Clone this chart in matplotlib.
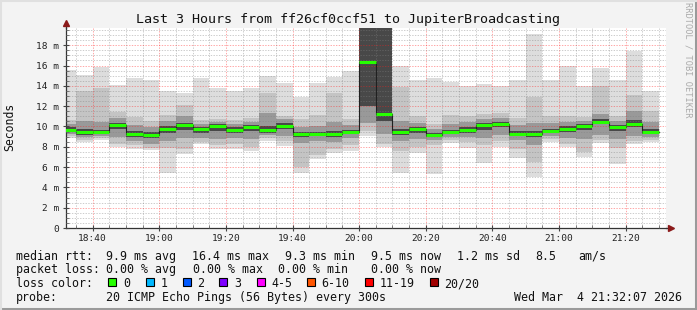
import matplotlib
matplotlib.use('Agg')
import matplotlib.pyplot as plt
from matplotlib.patches import Rectangle
from matplotlib.ticker import MultipleLocator, FuncFormatter

# 5 minute slots, first slot starts 18:30 (values in ms)
first_slot = 18 * 60 + 30
rtt_min = [8.9, 8.5, 8.7, 8.0, 7.8, 7.7, 5.45, 7.3, 8.25, 7.8, 7.8, 7.6,
           8.6, 8.1, 5.45, 6.8, 7.4, 7.6, 9.1, 8.0, 5.45, 7.4, 5.3, 8.4,
           7.9, 6.4, 8.0, 6.9, 5.0, 8.5, 8.0, 7.0, 8.35, 6.3, 8.3, 8.5]
rtt_lo2 = [9.1, 8.7, 8.9, 8.3, 8.2, 7.9, 7.9, 7.8, 8.5, 8.2, 8.3, 8.0,
           8.9, 8.6, 6.0, 7.2, 7.8, 8.2, 9.6, 8.3, 7.6, 8.0, 8.2, 8.7,
           8.5, 8.2, 8.6, 7.8, 6.5, 8.8, 8.3, 7.5, 8.7, 7.9, 8.6, 8.7]
rtt_lo5 = [9.3, 9.0, 9.1, 9.0, 8.6, 8.3, 8.6, 8.9, 8.9, 8.8, 8.9, 8.8,
           9.2, 9.1, 8.4, 8.6, 8.5, 8.9, 10.3, 9.3, 8.6, 8.8, 8.7, 9.0,
           9.0, 8.9, 9.2, 8.7, 8.2, 9.1, 8.9, 8.8, 9.2, 8.8, 9.1, 9.0]
rtt_lo8 = [9.5, 9.2, 9.3, 9.8, 9.0, 8.9, 9.4, 9.7, 9.4, 9.6, 9.4, 9.6,
           9.4, 9.8, 9.0, 9.1, 9.0, 9.3, 12.0, 10.5, 9.2, 9.4, 8.95, 9.3,
           9.4, 9.7, 9.9, 9.1, 9.0, 9.35, 9.5, 9.7, 10.2, 9.6, 9.9, 9.3]
rtt_med = [9.7, 9.5, 9.5, 10.1, 9.3, 9.2, 9.75, 10.1, 9.75, 10.0, 9.65, 9.9,
           9.65, 10.0, 9.3, 9.3, 9.3, 9.5, 16.4, 11.26, 9.5, 9.8, 9.15, 9.5,
           9.7, 10.1, 10.2, 9.3, 9.3, 9.6, 9.8, 10.0, 10.45, 9.95, 10.25, 9.5]
rtt_hi8 = [9.9, 9.8, 9.7, 10.3, 9.6, 9.5, 10.0, 10.3, 9.9, 10.2, 9.9, 10.1,
           10.0, 10.3, 9.5, 9.5, 9.6, 9.7, 19.7, 19.7, 9.8, 9.95, 9.4, 9.7,
           9.9, 10.3, 10.4, 9.6, 9.6, 9.8, 10.0, 10.2, 10.7, 10.1, 10.6, 9.8]
rtt_hi5 = [10.2, 10.5, 10.4, 10.8, 10.1, 9.9, 10.5, 11.0, 10.2, 10.4, 10.2, 10.4,
           11.3, 10.7, 9.9, 10.0, 10.4, 10.1, 19.7, 19.7, 10.5, 10.3, 9.8, 10.2,
           10.4, 10.7, 10.8, 10.1, 10.3, 10.3, 10.4, 10.5, 11.2, 10.5, 11.5, 10.4]
rtt_hi2 = [10.6, 13.5, 13.8, 11.4, 10.9, 10.5, 11.1, 12.1, 10.6, 10.7, 10.6, 10.8,
           13.3, 11.0, 10.7, 11.1, 13.3, 10.7, 19.7, 19.7, 13.9, 11.0, 10.2, 11.1,
           11.0, 11.2, 11.3, 10.8, 12.9, 11.0, 11.0, 10.9, 14.0, 11.0, 13.1, 11.5]
rtt_max = [15.6, 15.1, 15.9, 14.1, 14.8, 14.6, 13.5, 13.3, 14.75, 13.8, 13.5, 13.8,
           15.0, 14.25, 12.9, 14.25, 14.9, 15.5, 19.7, 19.7, 16.0, 14.6, 14.8, 14.4,
           14.0, 14.15, 14.0, 14.6, 19.1, 14.6, 16.0, 14.0, 15.8, 14.6, 17.4, 13.5]

loss_labels = ['0', '1', '2', '3', '4-5', '6-10', '11-19', '20/20']
loss_colors = ['#26ff00', '#00b8ff', '#0059ff', '#7e00ff', '#ff00ff',
               '#ff5500', '#ff0000', '#a10000']

rtt_items = ['median rtt:', '9.9 ms avg', '16.4 ms max', '9.3 ms min',
             '9.5 ms now', '1.2 ms sd', '8.5', 'am/s']
loss_items = ['packet loss:', '0.00 % avg', '0.00 % max', '0.00 % min', '0.00 % now']

W, H = 697, 310
MONO = 'DejaVu Sans Mono'


def px(x, y):
    return x / W, 1 - y / H


def legend_text(x, y, s):
    fig.text(*px(x, y), s, ha='left', va='center_baseline', fontfamily=MONO,
             fontsize=8.4, color='#111111')


fig = plt.figure(figsize=(W / 100, H / 100), dpi=100, facecolor='#f3f3f3')
ax = fig.add_axes([66.4 / W, (H - 228) / H, 599.6 / W, 200 / H])
ax.set_facecolor('white')

xs = [first_slot + 5 * i for i in range(len(rtt_med))]

# smoke: outer pings lightest, inner pings darker
layers = [(rtt_min, rtt_max, '#dddddd'),
          (rtt_lo2, rtt_hi2, '#c4c4c4'),
          (rtt_lo5, rtt_hi5, '#999999'),
          (rtt_lo8, rtt_hi8, '#484848')]
for lo, hi, col in layers:
    ax.bar(xs, [h - l for l, h in zip(lo, hi)], bottom=lo, width=5,
           align='edge', color=col, linewidth=0, zorder=1)

# median line
ax.step(xs + [xs[-1] + 5], rtt_med + [rtt_med[-1]], where='post',
        color='#202020', lw=0.8, zorder=3)
ax.hlines(rtt_med, xs, [x + 5 for x in xs], color=loss_colors[0], lw=2.2, zorder=4)

t0 = 18 * 60 + 32 + 7 / 60
ax.set_xlim(t0, t0 + 180)
ax.set_ylim(0, 19.7)

ax.xaxis.set_major_locator(MultipleLocator(20))
ax.xaxis.set_minor_locator(MultipleLocator(5))
ax.yaxis.set_major_locator(MultipleLocator(2))
ax.yaxis.set_minor_locator(MultipleLocator(0.5))
ax.xaxis.set_major_formatter(FuncFormatter(lambda v, p: f"{int(round(v)) // 60}:{int(round(v)) % 60:02d}"))
ax.yaxis.set_major_formatter(FuncFormatter(lambda v, p: '0' if abs(v) < 1e-9 else f"{v:.0f} m"))

ax.set_axisbelow(False)
dots = (0, (1.4, 1.4))
ax.grid(which='minor', color='#808080', alpha=0.4, ls=dots, lw=0.7)
ax.grid(which='major', color='#ff2020', alpha=0.4, ls=dots, lw=0.7)

for lab in ax.get_xticklabels() + ax.get_yticklabels():
    lab.set_fontfamily(MONO)
    lab.set_fontsize(6.8)
    lab.set_color('#222222')
ax.tick_params(axis='both', which='major', direction='inout', length=4, color='#444444')
ax.tick_params(axis='both', which='minor', direction='in', length=2, color='#666666')
ax.tick_params(axis='y', pad=3)
ax.tick_params(axis='x', pad=2)

for s in ['top', 'right']:
    ax.spines[s].set_visible(False)
for s in ['left', 'bottom']:
    ax.spines[s].set_color('#333333')
    ax.spines[s].set_linewidth(0.9)

# axis arrows
ax.plot([1.0, 1.007], [0, 0], transform=ax.transAxes, color='#333333', lw=0.9, clip_on=False)
ax.plot([0, 0], [1.0, 1.02], transform=ax.transAxes, color='#333333', lw=0.9, clip_on=False)
ax.plot([1.008], [0], transform=ax.transAxes, marker='>', ms=4, color='#8b1a1a', clip_on=False)
ax.plot([0], [1.025], transform=ax.transAxes, marker='^', ms=4, color='#8b1a1a', clip_on=False)

fig.text(*px(348, 19), 'Last 3 Hours from ff26cf0ccf51 to JupiterBroadcasting',
         ha='center', va='center', fontfamily=MONO, fontsize=9.6, color='#111111')
fig.text(*px(10, 127), 'Seconds', rotation=90, ha='center', va='center',
         fontfamily=MONO, fontsize=8.3, color='#111111')
fig.text(*px(688, 60), 'RRDTOOL / TOBI OETIKER', rotation=-90, ha='center', va='center',
         fontfamily=MONO, fontsize=6.2, color='#aaaaaa')

for x, s in zip([16, 106.3, 192.3, 285, 371.3, 457.3, 535.7, 578.5], rtt_items):
    legend_text(x, 254.7, s)
for x, s in zip([16, 106.3, 193, 278.3, 371.3], loss_items):
    legend_text(x, 268.3, s)

legend_text(16, 282.3, 'loss color:')
box_x = [108.3, 145.7, 182.7, 219.3, 256.7, 306.7, 365.0, 430.0]
for bx, lab, col in zip(box_x, loss_labels, loss_colors):
    fig.patches.append(Rectangle(px(bx, 286), 8 / W, 8 / H, transform=fig.transFigure,
                                 facecolor=col, edgecolor='black', lw=0.8))
    legend_text(bx + 14.5, 282.3, lab)

legend_text(16, 296, 'probe:')
legend_text(106.3, 296, '20 ICMP Echo Pings (56 Bytes) every 300s')
fig.text(*px(682, 296), 'Wed Mar  4 21:32:07 2026', ha='right', va='center_baseline',
         fontfamily=MONO, fontsize=8.4, color='#111111')

# frame around the image
fig.add_artist(plt.Line2D([0, 1], [1.5 / H, 1.5 / H], transform=fig.transFigure, color='#9a9a9a', lw=2.2))
fig.add_artist(plt.Line2D([1 - 1.5 / W, 1 - 1.5 / W], [0, 1], transform=fig.transFigure, color='#9a9a9a', lw=2.2))
fig.add_artist(plt.Line2D([0, 1], [1 - 1 / H, 1 - 1 / H], transform=fig.transFigure, color='#e0e0e0', lw=1.5))
fig.add_artist(plt.Line2D([1 / W, 1 / W], [0, 1], transform=fig.transFigure, color='#e0e0e0', lw=1.5))

fig.savefig('out.png', dpi=100, facecolor=fig.get_facecolor())
